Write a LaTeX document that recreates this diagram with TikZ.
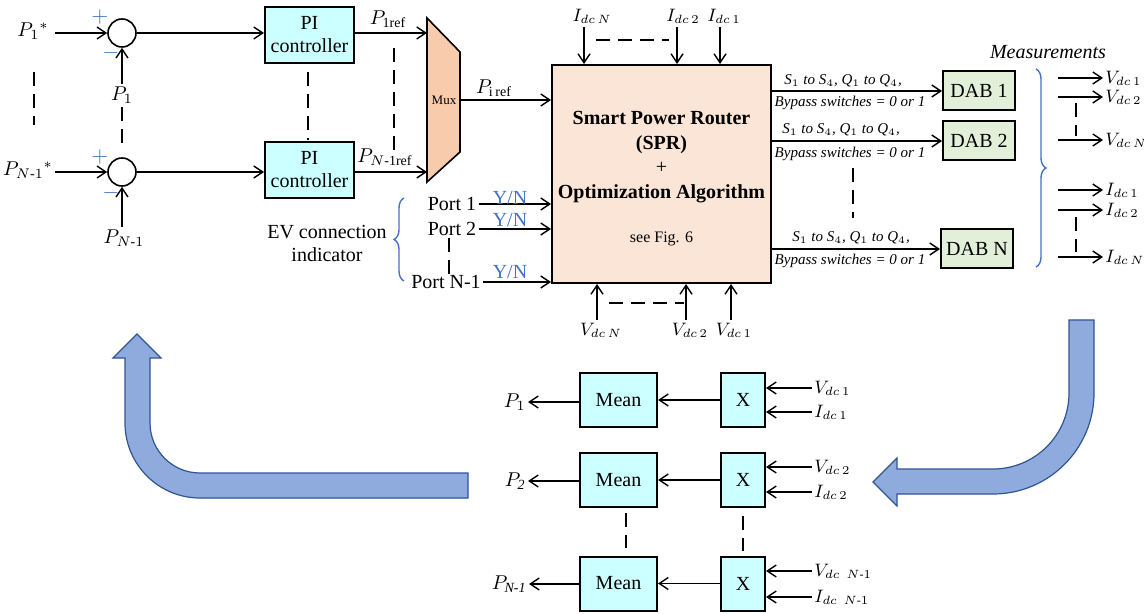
\documentclass[tikz,border=0pt]{standalone}
\usepackage{amsmath}
\usepackage{fontspec}
\setmainfont{Liberation Serif}
\usetikzlibrary{arrows.meta,decorations.pathreplacing}
\definecolor{sprfill}{HTML}{FBE5D6}
\definecolor{muxfill}{HTML}{F8CBAD}
\definecolor{pifill}{HTML}{CCFFFF}
\definecolor{dabfill}{HTML}{E2F0D9}
\definecolor{signblue}{HTML}{4472C4}
\definecolor{bigfill}{HTML}{8FAADC}
\definecolor{bigedge}{HTML}{2F5597}
\tikzset{
  sumnode/.style={
    circle,
    draw,
    line width=0.8pt,
    minimum size=14pt,
    inner sep=0pt
  },
  sig/.style={
    -{Straight Barb[length=4.5pt,width=6pt]},
    line width=0.7pt
  },
  dashlink/.style={
    line width=0.7pt,
    dash pattern=on 7pt off 4pt
  },
  pibox/.style={
    draw,
    line width=1pt,
    fill=pifill,
    minimum width=44.5pt,
    minimum height=28pt,
    inner sep=0pt,
    align=center,
    font=\fontsize{10}{11.5}\selectfont
  },
  meanbox/.style={pibox, minimum width=38.5pt, minimum height=27pt},
  mulbox/.style={pibox, minimum width=22pt, minimum height=27pt},
  dabbox/.style={
    draw,
    line width=1pt,
    fill=dabfill,
    minimum width=36pt,
    minimum height=19.5pt,
    inner sep=0pt,
    font=\fontsize{10}{12}\selectfont
  },
  sprbox/.style={
    draw,
    line width=1pt,
    fill=sprfill,
    minimum width=109.5pt,
    minimum height=109pt,
    inner sep=0pt
  },
  muxshape/.style={draw, line width=0.8pt, fill=muxfill},
  bigarrow/.style={draw=bigedge, line width=0.6pt, fill=bigfill},
  lbl/.style={inner sep=1pt, font=\fontsize{10}{12}\selectfont},
  sublbl/.style={inner sep=1pt, font=\fontsize{9}{11}\selectfont},
  swlbl/.style={inner sep=0pt, font=\fontsize{7.5}{9}\selectfont\itshape},
  signlbl/.style={inner sep=0pt, text=signblue, font=\fontsize{11}{11}\selectfont},
  ynlbl/.style={inner sep=0pt, text=signblue, font=\fontsize{10}{12}\selectfont},
  bluebrace/.style={
    draw=signblue,
    line width=0.7pt,
    decorate,
    decoration={brace, amplitude=5pt}
  }
}

\begin{document}
\begin{tikzpicture}[x=0.5pt,y=-0.5pt]
  \useasboundingbox (0,0) rectangle (1144,614);

  % power loops
  \node[sumnode] (s1) at (122,33) {};
  \node[sumnode] (s2) at (122,172) {};
  \node[signlbl] (pl1) at (100,17) {$+$};
  \node[signlbl] (mi1) at (111,53) {$-$};
  \node[signlbl] (pl2) at (100,157) {$+$};
  \node[signlbl] (mi2) at (111,193) {$-$};

  \node[lbl] (p1ref) at (33,31) {$P_1{}^{*}$};
  \node[lbl] (pnref) at (28,170) {$P_{N\text{-}1}{}^{*}$};
  \coordinate (in1) at (55,33);
  \coordinate (in2) at (55,172);
  \draw[sig] (in1) -- (s1);
  \draw[sig] (in2) -- (s2);

  \node[lbl] (p1fb) at (122,95) {$P_1$};
  \node[lbl] (pnfb) at (124,238) {$P_{N\text{-}1}$};
  \draw[sig] (s1 |- p1fb.north) -- (s1);
  \draw[sig] (s2 |- pnfb.north) -- (s2);

  \node[pibox] (pi1) at (309.5,35) {PI\\controller};
  \node[pibox] (pi2) at (309.5,170) {PI\\controller};
  \draw[sig] (s1) -- (s1 -| pi1.west);
  \draw[sig] (s2) -- (s2 -| pi2.west);

  \draw[dashlink] (34,72) -- (34,125);
  \draw[dashlink] (122,107) -- (122,145);
  \draw[dashlink] (308,72) -- (308,140);

  % mux
  \draw[muxshape] (427,18) -- (460,52) -- (460,152) -- (427,182) -- cycle;
  \node[inner sep=0pt, font=\fontsize{6.5}{8}\selectfont] (muxlbl) at (444,100) {Mux};
  \coordinate (mux1) at (427,33);
  \coordinate (mux2) at (427,172);
  \coordinate (muxout) at (460,100);
  \draw[sig] (pi1.east |- s1) -- (mux1);
  \draw[sig] (pi2.east |- s2) -- (mux2);
  \node[lbl] (pr1) at (388,19) {$P_{\mathrm{1ref}}$};
  \node[lbl] (prn) at (385,157) {$P_{N\text{-}\mathrm{1ref}}$};
  \draw[dashlink] (394,48) -- (394,150);

  % SPR
  \node[sprbox] (spr) at (661.5,174) {};
  \node[align=center, font=\fontsize{10}{12.2}\selectfont\bfseries] (sprtxt) at (661.5,157)
    {Smart Power Router\\(SPR)\\{\mdseries +}\\Optimization Algorithm};
  \node[font=\fontsize{8}{10}\selectfont] (seefig) at (661.5,239) {see Fig. 6};
  \draw[sig] (muxout) -- (muxout -| spr.west);
  \node[lbl] (pi) at (494,88) {$P_{\mathrm{i\,ref}}$};

  % currents in, voltages in
  \coordinate (tn) at (584,27);
  \coordinate (t2) at (677,27);
  \coordinate (t1) at (720,27);
  \draw[sig] (tn) -- (tn |- spr.north);
  \draw[sig] (t2) -- (t2 |- spr.north);
  \draw[sig] (t1) -- (t1 |- spr.north);
  \node[sublbl] (itn) at (592,16) {$I_{dc\,N}$};
  \node[sublbl] (it2) at (683,16) {$I_{dc\,2}$};
  \node[sublbl] (it1) at (724,16) {$I_{dc\,1}$};
  \draw[dashlink] (596,40) -- (669,40);

  \coordinate (bn) at (597,320);
  \coordinate (b2) at (686,320);
  \coordinate (b1) at (731,320);
  \draw[sig] (bn) -- (bn |- spr.south);
  \draw[sig] (b2) -- (b2 |- spr.south);
  \draw[sig] (b1) -- (b1 |- spr.south);
  \node[sublbl] (vbn) at (601,330) {$V_{dc\,N}$};
  \node[sublbl] (vb2) at (690,330) {$V_{dc\,2}$};
  \node[sublbl] (vb1) at (734,330) {$V_{dc\,1}$};
  \draw[dashlink] (609,303) -- (684,303);

  % EV ports
  \node[lbl] (port1) at (452,204) {Port 1};
  \node[lbl] (port2) at (452,229) {Port 2};
  \node[lbl] (portn) at (446,282) {Port N-1};
  \draw[sig] (port1.east) -- (port1.east -| spr.west);
  \draw[sig] (port2.east) -- (port2.east -| spr.west);
  \draw[sig] (portn.east) -- (portn.east -| spr.west);
  \node[ynlbl] (yn1) at (510,198) {Y/N};
  \node[ynlbl] (yn2) at (510,220) {Y/N};
  \node[ynlbl] (ynn) at (510,272) {Y/N};
  \draw[dashlink] (449,238) -- (449,276);
  \draw[bluebrace] (404,281) -- (404,198);
  \node[lbl, align=center, font=\fontsize{10}{11.5}\selectfont] (evtxt) at (327,243) {EV connection\\indicator};

  % DABs
  \node[dabbox] (dab1) at (979,91) {DAB 1};
  \node[dabbox] (dab2) at (979,141) {DAB 2};
  \node[dabbox] (dabn) at (977,249) {DAB N};
  \draw[sig] (dab1 -| spr.east) -- (dab1);
  \draw[sig] (dab2 -| spr.east) -- (dab2);
  \draw[sig] (dabn -| spr.east) -- (dabn);
  \node[swlbl] (sw1) at (843,81) {S$_1$ to S$_4$, Q$_1$ to Q$_4$,};
  \node[swlbl] (by1) at (850,103) {Bypass switches = 0 or 1};
  \node[swlbl] (sw2) at (841,130) {S$_1$ to S$_4$, Q$_1$ to Q$_4$,};
  \node[swlbl] (by2) at (850,154) {Bypass switches = 0 or 1};
  \node[swlbl] (swn) at (851,238) {S$_1$ to S$_4$, Q$_1$ to Q$_4$,};
  \node[swlbl] (byn) at (850,261) {Bypass switches = 0 or 1};
  \draw[dashlink] (853,168) -- (853,218);

  % measurements
  \node[lbl, font=\fontsize{10}{12}\selectfont\itshape] (meas) at (1048,52) {Measurements};
  \draw[bluebrace] (1036,69) -- (1036,267);
  \node[sublbl, anchor=west] (mv1) at (1103,78) {$V_{dc\,1}$};
  \node[sublbl, anchor=west] (mv2) at (1103,97) {$V_{dc\,2}$};
  \node[sublbl, anchor=west] (mvn) at (1103,140) {$V_{dc\,N}$};
  \node[sublbl, anchor=west] (mi1) at (1103,190) {$I_{dc\,1}$};
  \node[sublbl, anchor=west] (mi2) at (1103,210) {$I_{dc\,2}$};
  \node[sublbl, anchor=west] (min) at (1103,257) {$I_{dc\,N}$};
  \coordinate (ev1) at (1058,78);
  \coordinate (ev2) at (1058,97);
  \coordinate (evn) at (1058,140);
  \coordinate (ei1) at (1058,190);
  \coordinate (ei2) at (1058,210);
  \coordinate (ein) at (1058,257);
  \draw[sig] (ev1) -- (mv1.west);
  \draw[sig] (ev2) -- (mv2.west);
  \draw[sig] (evn) -- (mvn.west);
  \draw[sig] (ei1) -- (mi1.west);
  \draw[sig] (ei2) -- (mi2.west);
  \draw[sig] (ein) -- (min.west);
  \draw[dashlink] (1076,103) -- (1076,136);
  \draw[dashlink] (1076,217) -- (1076,252);

  % power calculation
  \node[meanbox] (m1) at (618.5,400) {Mean};
  \node[meanbox] (m2) at (618.5,480) {Mean};
  \node[meanbox] (m3) at (618.5,583.5) {Mean};
  \node[mulbox] (x1) at (743,400) {X};
  \node[mulbox] (x2) at (743,480) {X};
  \node[mulbox] (x3) at (743,583.5) {X};
  \draw[sig] (x1) -- (m1);
  \draw[sig] (x2) -- (m2);
  \draw[sig] (x3) -- (m3);
  \node[lbl, anchor=east] (po1) at (528,402) {$P_1$};
  \node[lbl, anchor=east] (po2) at (528,481) {$P_{\textit{2}}$};
  \node[lbl, anchor=east] (po3) at (529,584) {$P_{\textit{N-1}}$};
  \draw[sig] (m1.west |- po1) -- (po1);
  \draw[sig] (m2.west |- po2) -- (po2);
  \draw[sig] (m3.west |- po3) -- (po3);
  \node[sublbl, anchor=west] (xv1) at (812,388) {$V_{dc\,1}$};
  \node[sublbl, anchor=west] (xi1) at (812,412) {$I_{dc\,1}$};
  \node[sublbl, anchor=west] (xv2) at (812,467) {$V_{dc\,2}$};
  \node[sublbl, anchor=west] (xi2) at (812,492) {$I_{dc\,2}$};
  \node[sublbl, anchor=west] (xv3) at (812,571) {$V_{dc\ \,N\text{-}1}$};
  \node[sublbl, anchor=west] (xi3) at (812,597) {$I_{dc\ \,N\text{-}1}$};
  \draw[sig] (xv1.west) -- (xv1.west -| x1.east);
  \draw[sig] (xi1.west) -- (xi1.west -| x1.east);
  \draw[sig] (xv2.west) -- (xv2.west -| x2.east);
  \draw[sig] (xi2.west) -- (xi2.west -| x2.east);
  \draw[sig] (xv3.west) -- (xv3.west -| x3.east);
  \draw[sig] (xi3.west) -- (xi3.west -| x3.east);
  \draw[dashlink] (626,513) -- (626,548);
  \draw[dashlink] (743,516) -- (743,551);

  % feedback arrows
  \draw[bigarrow] (468,473) -- (200,473)
    .. controls (172.4,473) and (150,450.6) .. (150,423)
    -- (150,358) -- (161,358) -- (137,334) -- (113,358) -- (125,358) -- (125,423)
    .. controls (125,464.4) and (158.6,498) .. (200,498)
    -- (468,498) -- cycle;
  \draw[bigarrow] (1069,320) -- (1069,393)
    .. controls (1069,435) and (1035,469) .. (993,469)
    -- (897,469) -- (897,458) -- (873,482) -- (897,506) -- (897,494) -- (993,494)
    .. controls (1048.8,494) and (1094,448.8) .. (1094,393)
    -- (1094,320) -- cycle;
\end{tikzpicture}
\end{document}
